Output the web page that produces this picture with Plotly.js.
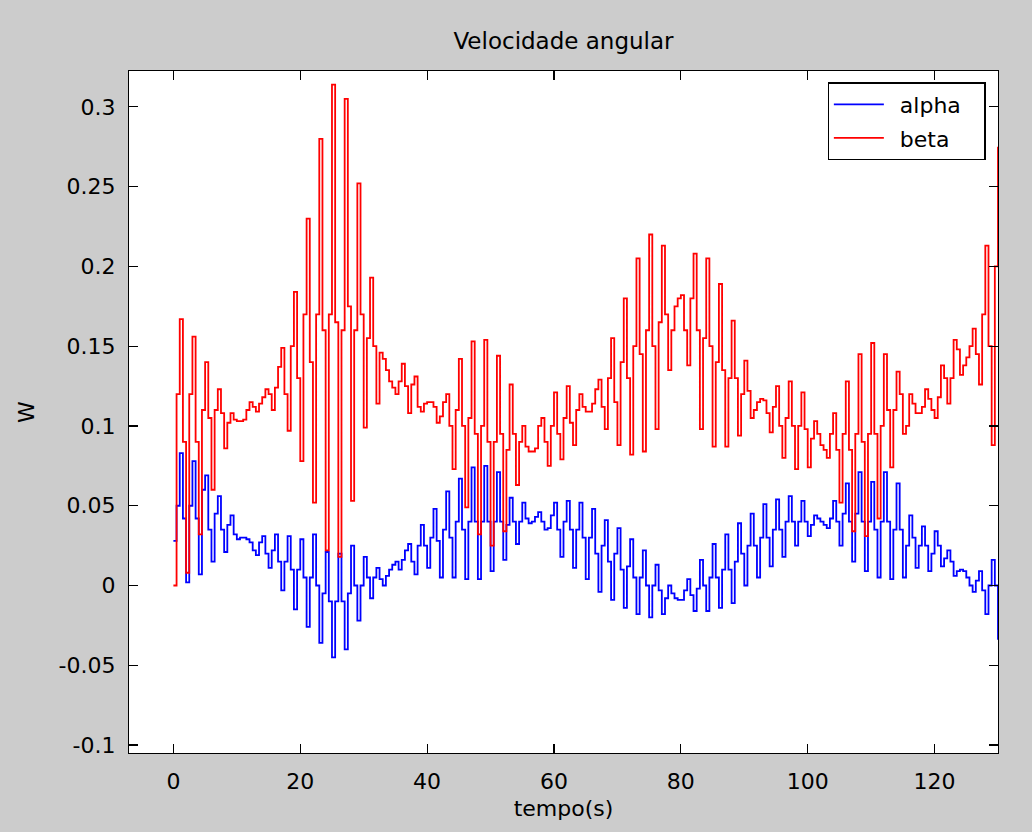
<!DOCTYPE html>
<html>
<head>
<meta charset="utf-8">
<script src="https://cdn.plot.ly/plotly-3.0.1.min.js"></script>
<style>
html,body{margin:0;padding:0;background:#cccccc;}
#chart{width:1032px;height:832px;}
</style>
</head>
<body>
<div id="chart"></div>
<script>
// sampling grid of the recorded signals (seconds); values are held between samples
const sampleStart = 0;
const sampleStep = 0.5;

// alpha angular velocity, one value every 0.5 s from t = 0 to t = 130
const alpha = [
  0.028, 0.050, 0.083, 0.042, 0.002, 0.050, 0.078, 0.042, 0.007, 0.060, 0.069, 0.035, 0.015, 0.045, 0.056, 0.035, 0.021, 0.038, 0.044, 0.032,
  0.029, 0.030, 0.030, 0.029, 0.027, 0.022, 0.019, 0.027, 0.031, 0.020, 0.011, 0.022, 0.032, 0.015, -0.003, 0.015, 0.031, 0.010, -0.015, 0.010,
  0.029, 0.005, -0.026, 0.005, 0.032, 0.000, -0.036, -0.005, 0.021, -0.010, -0.045, -0.010, 0.020, -0.010, -0.040, -0.005, 0.025, 0.000, -0.022, 0.000,
  0.018, 0.005, -0.008, 0.005, 0.011, 0.004, 0.000, 0.006, 0.010, 0.013, 0.015, 0.010, 0.016, 0.022, 0.026, 0.015, 0.007, 0.025, 0.038, 0.025,
  0.011, 0.030, 0.048, 0.028, 0.005, 0.035, 0.059, 0.030, 0.005, 0.040, 0.067, 0.035, 0.004, 0.040, 0.074, 0.040, 0.004, 0.040, 0.075, 0.040,
  0.009, 0.040, 0.071, 0.040, 0.016, 0.038, 0.055, 0.040, 0.026, 0.040, 0.052, 0.042, 0.039, 0.040, 0.043, 0.046, 0.040, 0.035, 0.036, 0.044,
  0.052, 0.035, 0.018, 0.040, 0.053, 0.035, 0.011, 0.035, 0.052, 0.030, 0.004, 0.030, 0.048, 0.020, -0.004, 0.025, 0.041, 0.015, -0.009, 0.020,
  0.036, 0.010, -0.014, 0.012, 0.029, 0.005, -0.018, 0.005, 0.022, 0.000, -0.020, 0.000, 0.013, -0.003, -0.018, -0.008, 0.000, -0.005, -0.008, -0.009,
  -0.009, -0.003, 0.004, -0.006, -0.016, -0.002, 0.016, 0.000, -0.016, 0.005, 0.026, 0.005, -0.014, 0.010, 0.032, 0.010, -0.011, 0.015, 0.039, 0.020,
  0.000, 0.025, 0.045, 0.025, 0.005, 0.030, 0.051, 0.030, 0.012, 0.035, 0.054, 0.035, 0.018, 0.040, 0.056, 0.040, 0.025, 0.040, 0.053, 0.040,
  0.031, 0.038, 0.044, 0.042, 0.040, 0.038, 0.036, 0.042, 0.053, 0.040, 0.025, 0.045, 0.064, 0.040, 0.015, 0.045, 0.071, 0.040, 0.009, 0.040,
  0.065, 0.035, 0.005, 0.040, 0.071, 0.040, 0.004, 0.035, 0.064, 0.035, 0.005, 0.025, 0.044, 0.030, 0.011, 0.025, 0.037, 0.025, 0.009, 0.020,
  0.034, 0.025, 0.012, 0.017, 0.022, 0.015, 0.006, 0.009, 0.010, 0.009, 0.005, 0.000, -0.004, 0.003, 0.009, -0.003, -0.018, 0.000, 0.016, 0.000,
  -0.034
];

// beta angular velocity, same sampling grid
const beta = [
  0.000, 0.120, 0.167, 0.090, 0.008, 0.120, 0.156, 0.090, 0.032, 0.110, 0.140, 0.105, 0.060, 0.110, 0.123, 0.108, 0.086, 0.102, 0.108, 0.104,
  0.103, 0.103, 0.104, 0.110, 0.115, 0.112, 0.109, 0.114, 0.118, 0.123, 0.120, 0.110, 0.124, 0.137, 0.149, 0.120, 0.097, 0.150, 0.184, 0.130,
  0.078, 0.170, 0.230, 0.140, 0.052, 0.170, 0.280, 0.160, 0.022, 0.170, 0.314, 0.165, 0.018, 0.160, 0.305, 0.175, 0.053, 0.160, 0.252, 0.170,
  0.099, 0.155, 0.193, 0.150, 0.114, 0.146, 0.142, 0.135, 0.128, 0.124, 0.120, 0.128, 0.139, 0.125, 0.108, 0.126, 0.131, 0.112, 0.109, 0.114,
  0.115, 0.115, 0.112, 0.102, 0.106, 0.115, 0.120, 0.100, 0.073, 0.110, 0.142, 0.100, 0.049, 0.105, 0.153, 0.095, 0.032, 0.100, 0.154, 0.090,
  0.025, 0.090, 0.144, 0.095, 0.034, 0.085, 0.126, 0.095, 0.063, 0.090, 0.100, 0.087, 0.084, 0.084, 0.086, 0.100, 0.105, 0.090, 0.075, 0.100,
  0.121, 0.095, 0.079, 0.105, 0.125, 0.102, 0.088, 0.110, 0.120, 0.112, 0.109, 0.109, 0.114, 0.123, 0.129, 0.112, 0.098, 0.130, 0.155, 0.115,
  0.088, 0.140, 0.180, 0.130, 0.082, 0.150, 0.205, 0.145, 0.084, 0.160, 0.220, 0.150, 0.098, 0.165, 0.213, 0.170, 0.135, 0.160, 0.175, 0.180,
  0.182, 0.160, 0.138, 0.180, 0.208, 0.160, 0.098, 0.155, 0.205, 0.150, 0.087, 0.140, 0.189, 0.135, 0.087, 0.130, 0.166, 0.130, 0.094, 0.120,
  0.141, 0.122, 0.105, 0.110, 0.115, 0.117, 0.116, 0.108, 0.096, 0.112, 0.125, 0.100, 0.080, 0.105, 0.128, 0.100, 0.073, 0.100, 0.121, 0.098,
  0.074, 0.092, 0.103, 0.095, 0.088, 0.085, 0.080, 0.095, 0.108, 0.085, 0.052, 0.095, 0.128, 0.085, 0.034, 0.095, 0.145, 0.090, 0.031, 0.095,
  0.152, 0.095, 0.042, 0.100, 0.145, 0.110, 0.074, 0.110, 0.134, 0.120, 0.095, 0.100, 0.120, 0.114, 0.108, 0.108, 0.112, 0.123, 0.117, 0.110,
  0.105, 0.118, 0.138, 0.130, 0.114, 0.130, 0.154, 0.148, 0.132, 0.138, 0.143, 0.150, 0.161, 0.145, 0.126, 0.170, 0.213, 0.150, 0.088, 0.200,
  0.275
];

const seriesNames = ['alpha', 'beta'];
const xTickVals = [0, 20, 40, 60, 80, 100, 120];
const yTickVals = [-0.1, -0.05, 0, 0.05, 0.1, 0.15, 0.2, 0.25, 0.3];
const yTickText = ['-0.1', '-0.05', '0', '0.05', '0.1', '0.15', '0.2', '0.25', '0.3'];
const titleText = 'Velocidade angular';
const xTitle = 'tempo(s)';
const yTitle = 'W';

const time = alpha.map((_, i) => sampleStart + i * sampleStep);

const FONT = 'DejaVu Sans, Liberation Sans, Arial, sans-serif';
// legend entries: names padded with spaces so the box has MATLAB-like margins
const legendLabel = s => '\u2002' + s + '\u2002\u00a0';

const traces = [
  {x: time, y: alpha, type: 'scatter', mode: 'lines', name: legendLabel(seriesNames[0]), legendgroup: 'a',
   line: {color: '#0000ff', width: 1.8, shape: 'hv'}},
  {x: time, y: beta, type: 'scatter', mode: 'lines', name: legendLabel(seriesNames[1]), legendgroup: 'b',
   line: {color: '#ff0000', width: 1.8, shape: 'hv'}}
];

const axisCommon = {
  showline: true, linecolor: '#000000', linewidth: 1.2,
  mirror: 'ticks', ticks: 'inside', ticklen: 9, tickwidth: 1.2, tickcolor: '#000000',
  showgrid: false, zeroline: false,
  tickfont: {family: FONT, size: 22, color: '#000000'}
};

const layout = {
  width: 1032, height: 832,
  paper_bgcolor: '#cccccc', plot_bgcolor: '#ffffff',
  margin: {l: 129, r: 34, t: 71, b: 79},
  font: {family: FONT, size: 22, color: '#000000'},
  title: {text: titleText, font: {family: FONT, size: 23, color: '#000000'},
          x: 0.5, xref: 'paper', xanchor: 'center', y: 1 - 41 / 832, yref: 'container', yanchor: 'middle'},
  xaxis: Object.assign({}, axisCommon, {
    range: [-7, 130], tickvals: xTickVals, ticktext: xTickVals.map(String),
    ticklabelstandoff: 8,
    title: {text: xTitle, font: {family: FONT, size: 22, color: '#000000'}, standoff: 8}
  }),
  yaxis: Object.assign({}, axisCommon, {
    range: [-0.105, 0.3225], tickvals: yTickVals, ticktext: yTickText,
    ticklabelstandoff: 8,
    title: {text: yTitle, font: {family: FONT, size: 22, color: '#000000'}, standoff: 17}
  }),
  showlegend: true,
  legend: {
    x: 0.9858, xanchor: 'right', y: 0.9834, yanchor: 'top',
    bgcolor: '#ffffff', bordercolor: '#000000', borderwidth: 1.2,
    font: {family: FONT, size: 22, color: '#000000'},
    tracegroupgap: 2, itemwidth: 50
  }
};

Plotly.newPlot('chart', traces, layout, {displayModeBar: false, staticPlot: true});
</script>
</body>
</html>
